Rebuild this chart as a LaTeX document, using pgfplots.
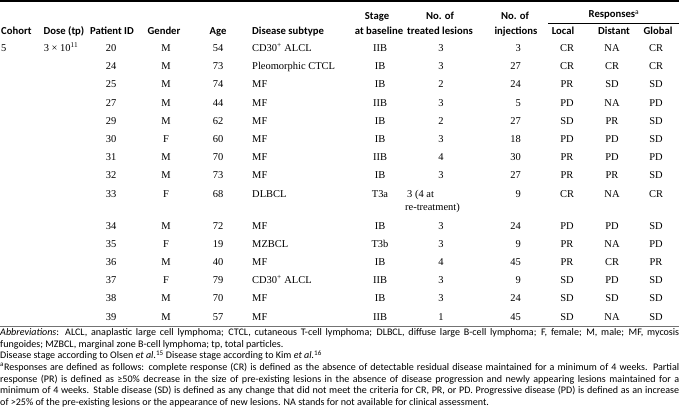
\documentclass[border=0pt]{standalone}
\usepackage{fontspec}
\setmainfont{Liberation Serif}
\newfontfamily\sans{Carlito}
\usepackage{pgfplots}
\usepackage{pgfplotstable}
\pgfplotsset{compat=1.18}
\protected\def\cdalcl{CD30\textsuperscript{+} ALCL}
\newcommand\datafont{\fontsize{10.5}{12}\selectfont}
\newcommand\hdrfont{\sans\bfseries\fontsize{10.7}{12}\selectfont}
\pgfplotstableread[col sep=semicolon]{
y;id;gender;age;subtype;stage;lesions;inj;loc;dist;glob
51.5;20;M;54;\cdalcl;IIB;3;3;CR;NA;CR
69.7;24;M;73;Pleomorphic CTCL;IB;3;27;CR;CR;CR
87.9;25;M;74;MF;IB;2;24;PR;SD;SD
106.1;27;M;44;MF;IIB;3;5;PD;NA;PD
124.3;29;M;62;MF;IB;2;27;SD;PR;SD
142.5;30;F;60;MF;IB;3;18;PD;PD;SD
160.7;31;M;70;MF;IIB;4;30;PR;PD;PD
178.9;32;M;73;MF;IB;3;27;PR;PR;SD
197.1;33;F;68;DLBCL;T3a;3;9;CR;NA;CR
229.1;34;M;72;MF;IB;3;24;PD;PD;SD
247.3;35;F;19;MZBCL;T3b;3;9;PR;NA;PD
265.5;36;M;40;MF;IB;4;45;PR;CR;PR
283.7;37;F;79;\cdalcl;IIB;3;9;SD;PD;SD
301.9;38;M;70;MF;IB;3;24;SD;SD;SD
320.1;39;M;57;MF;IIB;1;45;SD;NA;SD
}\rows
\pgfplotsset{
  col/.style={only marks, mark=none, nodes near coords, point meta=explicit symbolic,
    every node near coord/.append style={anchor=#1, inner sep=0pt, font=\datafont, text=black}},
}
\begin{document}
\begin{tikzpicture}
\begin{axis}[
  scale only axis, width=679bp, height=409bp,
  xmin=0, xmax=679, ymin=0, ymax=409, y dir=reverse,
  hide axis, clip=false,
]
% rules
\draw[line width=1.5bp, black] (axis cs:0,1.2) -- (axis cs:679,1.2);
\draw[line width=0.6bp, black] (axis cs:548,23.5) -- (axis cs:679,23.5);
\draw[line width=1.6bp, black!55] (axis cs:0,326.5) -- (axis cs:679,326.5);
% headers
\node[anchor=base, font=\hdrfont, inner sep=0pt] at (axis cs:614,18) {Responses\textsuperscript{\mdseries a}};
\node[anchor=base, font=\hdrfont, inner sep=0pt] at (axis cs:377,20) {Stage};
\node[anchor=base, font=\hdrfont, inner sep=0pt] at (axis cs:440,20) {No. of};
\node[anchor=base, font=\hdrfont, inner sep=0pt] at (axis cs:515,20) {No. of};
\node[anchor=base west, font=\hdrfont, inner sep=0pt] at (axis cs:1,34) {Cohort};
\node[anchor=base, font=\hdrfont, inner sep=0pt] at (axis cs:64,34) {Dose (tp)};
\node[anchor=base, font=\hdrfont, inner sep=0pt] at (axis cs:112,34) {Patient ID};
\node[anchor=base, font=\hdrfont, inner sep=0pt] at (axis cs:164,34) {Gender};
\node[anchor=base, font=\hdrfont, inner sep=0pt] at (axis cs:218,34) {Age};
\node[anchor=base west, font=\hdrfont, inner sep=0pt] at (axis cs:252,34) {Disease subtype};
\node[anchor=base, font=\hdrfont, inner sep=0pt] at (axis cs:379,34) {at baseline};
\node[anchor=base, font=\hdrfont, inner sep=0pt] at (axis cs:440,34) {treated lesions};
\node[anchor=base, font=\hdrfont, inner sep=0pt] at (axis cs:516,34) {injections};
\node[anchor=base, font=\hdrfont, inner sep=0pt] at (axis cs:563,34) {Local};
\node[anchor=base, font=\hdrfont, inner sep=0pt] at (axis cs:614,34) {Distant};
\node[anchor=base, font=\hdrfont, inner sep=0pt] at (axis cs:658,34) {Global};
% first-row cohort and dose
\node[anchor=base west, font=\datafont, inner sep=0pt] at (axis cs:1,51.5) {5};
\node[anchor=base, font=\datafont, inner sep=0pt] at (axis cs:61,51.5) {3 × 10\textsuperscript{11}};
% data columns
\addplot[col=base] table[x expr=111, y=y, meta=id] \rows;
\addplot[col=base] table[x expr=166, y=y, meta=gender] \rows;
\addplot[col=base] table[x expr=218, y=y, meta=age] \rows;
\addplot[col=base west] table[x expr=252, y=y, meta=subtype] \rows;
\addplot[col=base] table[x expr=380, y=y, meta=stage] \rows;
\addplot[col=base, skip coords between index={8}{9}] table[x expr=441, y=y, meta=lesions] \rows;
\addplot[col=base east] table[x expr=521, y=y, meta=inj] \rows;
\addplot[col=base] table[x expr=567, y=y, meta=loc] \rows;
\addplot[col=base] table[x expr=612, y=y, meta=dist] \rows;
\addplot[col=base] table[x expr=656, y=y, meta=glob] \rows;
\node[anchor=base west, font=\datafont, inner sep=0pt] at (axis cs:407,197.1) {3 (4 at};
\node[anchor=base west, font=\datafont, inner sep=0pt] at (axis cs:405,210.1) {re-treatment)};
% footnotes
\node[anchor=north west, inner sep=0pt, text width=679bp, align=justify,
  font=\sans\fontsize{10.1}{11.65}\selectfont] at (axis cs:0,328.5) {%
\textit{Abbreviations}: ALCL, anaplastic large cell lymphoma; CTCL, cutaneous T-cell lymphoma; DLBCL, diffuse large B-cell lymphoma; F, female; M, male; MF, mycosis\linebreak
fungoides; MZBCL, marginal zone B-cell lymphoma; tp, total particles.\\
Disease stage according to Olsen \textit{et al.}\textsuperscript{15} Disease stage according to Kim \textit{et al.}\textsuperscript{16}\\
\textsuperscript{a}Responses are defined as follows: complete response (CR) is defined as the absence of detectable residual disease maintained for a minimum of 4 weeks. Partial\linebreak
response (PR) is defined as ≥50\% decrease in the size of pre-existing lesions in the absence of disease progression and newly appearing lesions maintained for a\linebreak
minimum of 4 weeks. Stable disease (SD) is defined as any change that did not meet the criteria for CR, PR, or PD. Progressive disease (PD) is defined as an increase\linebreak
of >25\% of the pre-existing lesions or the appearance of new lesions. NA stands for not available for clinical assessment.};
\end{axis}
\pgfresetboundingbox
\useasboundingbox (current axis.south west) rectangle (current axis.north east);
\end{tikzpicture}
\end{document}
